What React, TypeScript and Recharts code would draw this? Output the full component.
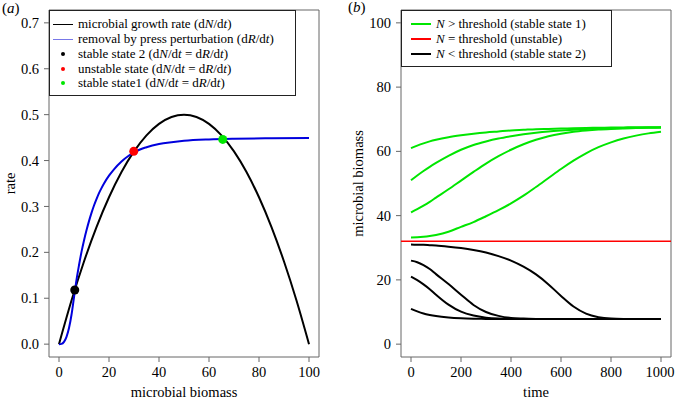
import React from 'react';
import { ComposedChart, Line, Scatter, XAxis, YAxis, ReferenceArea, ReferenceLine } from 'recharts';

const FONT = '"Liberation Serif", "Times New Roman", serif';

// panel (a): rates against microbial biomass
const biomass = [0, 5, 10, 15, 20, 25, 30, 35, 40, 45, 50, 55, 60, 65, 70, 75, 80, 85, 90, 95, 100];
const growthRate = [0, 0.095, 0.18, 0.255, 0.32, 0.375, 0.42, 0.455, 0.48, 0.495, 0.5, 0.495, 0.48, 0.455, 0.42, 0.375, 0.32, 0.255, 0.18, 0.095, 0];

const removalBiomass = [0, 1, 2, 3, 4, 5, 6, 7, 8, 9, 10, 11, 12, 13, 14, 15, 16, 17, 18, 20, 22, 25, 28, 30, 35, 40, 45, 50, 60, 70, 85, 100];
const removalRate = [0, 0.0006, 0.005, 0.016, 0.035, 0.064, 0.102, 0.14, 0.172, 0.201, 0.226, 0.248, 0.268, 0.286, 0.302, 0.316, 0.329, 0.34, 0.35, 0.367, 0.381, 0.398, 0.411, 0.418, 0.429, 0.436, 0.44, 0.443, 0.446, 0.4475, 0.4485, 0.449];

const stateNames = ['stable2', 'unstable', 'stable1'];
const stateBiomass = [6.3, 29.9, 65.5];
const stateRate = [0.118, 0.42, 0.446];
const stateColors = ['#000000', '#ff0000', '#00e600'];

// panel (b): trajectories over time
const time = [0, 25, 50, 75, 100, 150, 200, 250, 300, 350, 400, 450, 500, 550, 600, 650, 700, 750, 800, 850, 900, 950, 1000];
const green1 = [61.0, 61.8, 62.5, 63.1, 63.6, 64.4, 65.0, 65.5, 65.9, 66.2, 66.5, 66.7, 66.9, 67.0, 67.1, 67.2, 67.3, 67.35, 67.4, 67.45, 67.5, 67.5, 67.5];
const green2 = [51.0, 52.5, 53.9, 55.2, 56.4, 58.6, 60.5, 62.0, 63.1, 64.0, 64.7, 65.3, 65.8, 66.2, 66.5, 66.75, 66.95, 67.1, 67.2, 67.3, 67.35, 67.4, 67.45];
const green3 = [41.0, 42.0, 43.1, 44.3, 45.6, 48.2, 50.9, 53.6, 56.2, 58.5, 60.5, 62.2, 63.6, 64.7, 65.5, 66.1, 66.5, 66.8, 67.0, 67.15, 67.25, 67.35, 67.4];
const green4 = [33.2, 33.25, 33.4, 33.65, 34.0, 35.0, 36.5, 38.0, 39.8, 41.7, 43.8, 46.2, 48.9, 51.7, 54.5, 57.1, 59.4, 61.3, 62.8, 64.0, 64.9, 65.6, 66.1];
const black1 = [31.0, 30.95, 30.9, 30.8, 30.7, 30.35, 29.9, 29.3, 28.5, 27.4, 26.0, 24.1, 21.7, 18.6, 15.0, 11.7, 9.5, 8.4, 7.95, 7.83, 7.8, 7.8, 7.8];
const black2 = [26.0, 25.5, 24.6, 23.4, 21.8, 18.7, 15.4, 12.2, 10.0, 8.8, 8.15, 7.95, 7.85, 7.8, 7.8, 7.8, 7.8, 7.8, 7.8, 7.8, 7.8, 7.8, 7.8];
const black3 = [21.0, 19.9, 18.6, 17.1, 15.4, 12.3, 10.1, 8.9, 8.25, 7.95, 7.85, 7.8, 7.8, 7.8, 7.8, 7.8, 7.8, 7.8, 7.8, 7.8, 7.8, 7.8, 7.8];
const black4 = [11.0, 10.2, 9.55, 9.1, 8.75, 8.3, 8.05, 7.92, 7.85, 7.8, 7.8, 7.8, 7.8, 7.8, 7.8, 7.8, 7.8, 7.8, 7.8, 7.8, 7.8, 7.8, 7.8];
const threshold = 32;

const rateTicks = [0, 0.1, 0.2, 0.3, 0.4, 0.5, 0.6, 0.7];
const biomassTicks = [0, 20, 40, 60, 80, 100];
const timeTicks = [0, 200, 400, 600, 800, 1000];
const trajTicks = [0, 20, 40, 60, 80, 100];

const growthData = biomass.map((x, i) => ({ x, y: growthRate[i] }));
const removalData = removalBiomass.map((x, i) => ({ x, y: removalRate[i] }));
const trajData = time.map((t, i) => ({
  t, g1: green1[i], g2: green2[i], g3: green3[i], g4: green4[i],
  b1: black1[i], b2: black2[i], b3: black3[i], b4: black4[i],
}));

const axisGray = '#666';
const textCss: React.CSSProperties = { fontFamily: FONT, fontSize: 14.5, fill: '#000' };

// R-style serif tick labels
const xTick = (fmt?: (v: number) => string) => (p: any) => (
  <text x={p.x} y={p.y} dy="0.71em" textAnchor="middle" style={textCss}>
    {fmt ? fmt(p.payload.value) : p.payload.value}
  </text>
);
const yTick = (fmt?: (v: number) => string) => (p: any) => (
  <text x={p.x} y={p.y} dy="0.35em" textAnchor="end" style={textCss}>
    {fmt ? fmt(p.payload.value) : p.payload.value}
  </text>
);
const xTitle = (text: string) => (p: any) => {
  const vb = p.viewBox;
  return <text x={vb.x + vb.width / 2} y={vb.y + vb.height - 4} textAnchor="middle" style={textCss}>{text}</text>;
};
const yTitle = (text: string, dx: number) => (p: any) => {
  const vb = p.viewBox;
  const cx = vb.x + dx;
  const cy = vb.y + vb.height / 2;
  return <text x={cx} y={cy} dy="0.35em" textAnchor="middle" transform={`rotate(-90 ${cx} ${cy})`} style={textCss}>{text}</text>;
};

const It = ({ children }: { children: React.ReactNode }) => <i>{children}</i>;

function LegendRow({ kind, color, children }: { kind: 'line' | 'dot' | 'thick'; color: string; children: React.ReactNode }) {
  return (
    <div style={{ display: 'flex', alignItems: 'center', height: 14.75 }}>
      <div style={{ width: 20, display: 'flex', justifyContent: 'center', marginRight: 5 }}>
        {kind === 'dot'
          ? <div style={{ width: 4, height: 4, borderRadius: 2, background: color }} />
          : <div style={{ width: 20, height: 0, borderTop: `${kind === 'thick' ? 2 : 1}px solid ${color}` }} />}
      </div>
      <span>{children}</span>
    </div>
  );
}

export default function App() {
  return (
    <div style={{ position: 'absolute', left: 0, top: 0, width: 676, height: 401, background: '#fff', fontFamily: FONT }}>
      <div style={{ position: 'absolute', left: 2, top: 0, fontSize: 15 }}>(<It>a</It>)</div>
      <div style={{ position: 'absolute', left: 348, top: -1, fontSize: 15 }}>(<It>b</It>)</div>

      <div style={{ position: 'absolute', left: 0, top: 0 }}>
        <ComposedChart width={338} height={401} margin={{ top: 10, right: 19, bottom: 0, left: 0 }}>
          <XAxis dataKey="x" type="number" domain={[-4, 104]} ticks={biomassTicks} allowDataOverflow
            height={44} tickSize={5} tickMargin={5} axisLine={false} tickLine={{ stroke: axisGray }} tick={xTick()}
            label={{ content: xTitle('microbial biomass') }} />
          <YAxis type="number" domain={[-0.028, 0.728]} ticks={rateTicks} allowDataOverflow
            width={49} tickSize={5} tickMargin={5} axisLine={false} tickLine={{ stroke: axisGray }}
            tick={yTick((v) => v.toFixed(1))}
            label={{ content: yTitle('rate', 10) }} />
          <ReferenceArea x1={-4} x2={104} y1={-0.028} y2={0.728} fill="none" stroke={axisGray} ifOverflow="visible" />
          <Line data={growthData} dataKey="y" type="monotone" stroke="#000" strokeWidth={2} dot={false} activeDot={false} isAnimationActive={false} />
          <Line data={removalData} dataKey="y" type="monotone" stroke="#0000dd" strokeWidth={2} dot={false} activeDot={false} isAnimationActive={false} />
          {stateNames.map((name, i) => (
            <Scatter key={name} data={[{ x: stateBiomass[i], y: stateRate[i] }]} dataKey="y" fill={stateColors[i]}
              isAnimationActive={false}
              shape={(p: any) => <circle cx={p.cx} cy={p.cy} r={4.5} fill={stateColors[i]} />} />
          ))}
        </ComposedChart>
      </div>

      <div style={{ position: 'absolute', left: 338, top: 0 }}>
        <ComposedChart width={338} height={401} data={trajData} margin={{ top: 10, right: 5, bottom: 0, left: 0 }}>
          <XAxis dataKey="t" type="number" domain={[-40, 1040]} ticks={timeTicks} allowDataOverflow
            height={44} tickSize={5} tickMargin={5} axisLine={false} tickLine={{ stroke: axisGray }} tick={xTick()}
            label={{ content: xTitle('time') }} />
          <YAxis type="number" domain={[-4, 104]} ticks={trajTicks} allowDataOverflow
            width={63} tickSize={5} tickMargin={5} axisLine={false} tickLine={{ stroke: axisGray }} tick={yTick()}
            label={{ content: yTitle('microbial biomass', 20) }} />
          <ReferenceArea x1={-40} x2={1040} y1={-4} y2={104} fill="none" stroke={axisGray} ifOverflow="visible" />
          {['g1', 'g2', 'g3', 'g4'].map((k) => (
            <Line key={k} dataKey={k} type="monotone" stroke="#00e600" strokeWidth={2} dot={false} activeDot={false} isAnimationActive={false} />
          ))}
          <ReferenceLine y={threshold} stroke="#ff0000" strokeWidth={1.5} />
          {['b1', 'b2', 'b3', 'b4'].map((k) => (
            <Line key={k} dataKey={k} type="monotone" stroke="#000" strokeWidth={2} dot={false} activeDot={false} isAnimationActive={false} />
          ))}
        </ComposedChart>
      </div>

      <div style={{ position: 'absolute', left: 49, top: 10, width: 247, height: 86, boxSizing: 'border-box', border: '1px solid #222', background: '#fff', fontSize: 13, paddingTop: 6, paddingLeft: 3 }}>
        <LegendRow kind="line" color="#000">microbial growth rate (d<It>N</It>/d<It>t</It>)</LegendRow>
        <LegendRow kind="line" color="#7878e8">removal by press perturbation (d<It>R</It>/d<It>t</It>)</LegendRow>
        <LegendRow kind="dot" color={stateColors[0]}>stable state 2 (d<It>N</It>/d<It>t</It> = d<It>R</It>/d<It>t</It>)</LegendRow>
        <LegendRow kind="dot" color={stateColors[1]}>unstable state (d<It>N</It>/d<It>t</It> = d<It>R</It>/d<It>t</It>)</LegendRow>
        <LegendRow kind="dot" color={stateColors[2]}>stable state1 (d<It>N</It>/d<It>t</It> = d<It>R</It>/d<It>t</It>)</LegendRow>
      </div>

      <div style={{ position: 'absolute', left: 401, top: 10, width: 211, height: 57, boxSizing: 'border-box', border: '1px solid #222', background: '#fff', fontSize: 13, paddingTop: 6, paddingLeft: 9 }}>
        <LegendRow kind="thick" color="#00e600"><It>N</It> &gt; threshold (stable state 1)</LegendRow>
        <LegendRow kind="thick" color="#ff0000"><It>N</It> = threshold (unstable)</LegendRow>
        <LegendRow kind="thick" color="#000"><It>N</It> &lt; threshold (stable state 2)</LegendRow>
      </div>
    </div>
  );
}
